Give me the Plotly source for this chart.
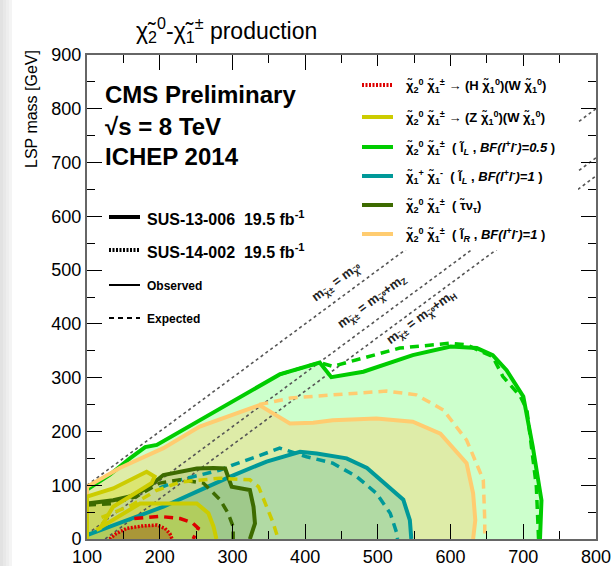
import plotly.graph_objects as go

# ---------------- data (x: chargino/neutralino2 mass, y: LSP mass, GeV) ----------------
green_obs_x = [100, 131, 159, 180, 196, 365, 420, 436, 480, 548, 600, 636, 658, 677, 700, 713, 725, 723]
green_obs_y = [92, 119, 150, 171, 175, 306, 328, 301, 311, 342, 358, 355, 342, 314, 265, 172, 72, 0]
green_exp_x = [365, 420, 438, 462, 530, 599, 622, 658, 672, 696, 705, 718, 721]
green_exp_y = [306, 328, 321, 330, 355, 364, 361, 339, 302, 265, 240, 97, 0]

orange_obs_x = [100, 100, 145, 205, 255, 337, 379, 411, 438, 498, 548, 586, 622, 631, 634, 631]
orange_obs_y = [80, 97, 132, 169, 209, 249, 215, 216, 221, 224, 218, 196, 141, 85, 35, 0]
orange_exp_x = [337, 380, 438, 512, 553, 590, 622, 645, 647, 647]
orange_exp_y = [250, 262, 268, 275, 268, 240, 184, 110, 35, 0]

teal_obs_x = [100, 145, 205, 251, 297, 347, 383, 393, 416, 457, 485, 508, 535, 544, 546]
teal_obs_y = [7, 29, 60, 88, 116, 144, 159, 162, 159, 150, 132, 104, 73, 35, 0]
teal_exp_x = [200, 228, 283, 301, 333, 365, 402, 438, 471, 498, 517, 526, 527]
teal_exp_y = [95, 110, 128, 138, 153, 169, 153, 141, 116, 85, 48, 11, 0]

olive_obs_x = [100, 136, 159, 182, 205, 251, 274, 290, 299, 324, 329, 331, 324]
olive_obs_y = [66, 72, 79, 94, 119, 131, 132, 131, 97, 91, 60, 29, 0]
olive_exp_x = [100, 136, 168, 200, 228, 260, 283, 294, 301, 301]
olive_exp_y = [63, 66, 79, 104, 110, 104, 73, 48, 23, 0]

yellow_obs_x = [100, 100, 136, 182, 193, 189, 177, 136, 118, 113, 173, 251, 267, 274, 278]
yellow_obs_y = [0, 79, 94, 125, 116, 104, 94, 60, 20, 17, 66, 66, 48, 23, 0]
yellow_exp_x = [120, 160, 195, 228, 283, 324, 336, 347, 356, 363]
yellow_exp_y = [40, 62, 90, 106, 113, 110, 97, 60, 30, 0]

red_obs_x = [131, 140, 155, 175, 196, 207, 214, 217]
red_obs_y = [0, 10, 20, 24, 26, 20, 10, 0]
red_exp_x = [165, 200, 228, 245, 253, 250, 246]
red_exp_y = [38, 42, 38, 30, 20, 10, 0]

# kinematic lines: m(chi1+-) = m(LSP) + offset
diag_offsets = [0.0, 91.2, 125.0]
diag_labels = ["m<sub>χ̃±</sub> = m<sub>χ̃⁰</sub>",
               "m<sub>χ̃±</sub> = m<sub>χ̃⁰</sub>+m<sub>Z</sub>",
               "m<sub>χ̃±</sub> = m<sub>χ̃⁰</sub>+m<sub>H</sub>"]

legend_labels = [
    "χ̃<sub>2</sub><sup>0</sup> χ̃<sub>1</sub><sup>±</sup> → (H χ̃<sub>1</sub><sup>0</sup>)(W χ̃<sub>1</sub><sup>0</sup>)",
    "χ̃<sub>2</sub><sup>0</sup> χ̃<sub>1</sub><sup>±</sup> → (Z χ̃<sub>1</sub><sup>0</sup>)(W χ̃<sub>1</sub><sup>0</sup>)",
    "χ̃<sub>2</sub><sup>0</sup> χ̃<sub>1</sub><sup>±</sup>  ( l̃<sub><i>L</i></sub> , <i>BF(l<sup>+</sup>l<sup>-</sup>)=0.5</i> )",
    "χ̃<sub>1</sub><sup>+</sup> χ̃<sub>1</sub><sup>-</sup>  ( l̃<sub><i>L</i></sub> , <i>BF(l<sup>+</sup>l<sup>-</sup>)=1</i> )",
    "χ̃<sub>2</sub><sup>0</sup> χ̃<sub>1</sub><sup>±</sup>  ( τ̃ν<sub>τ</sub>)",
    "χ̃<sub>2</sub><sup>0</sup> χ̃<sub>1</sub><sup>±</sup>  ( l̃<sub><i>R</i></sub> , <i>BF(l<sup>+</sup>l<sup>-</sup>)=1</i> )",
]

# ---------------- styles ----------------
C_GREEN, C_ORANGE, C_TEAL = "#00cc00", "#ffcc70", "#009999"
C_OLIVE, C_YELLOW, C_RED = "#3d6b00", "#cccc00", "#dd0000"

W, H = 615, 566
L, R, T, B = 87, 19, 55, 27
PW, PH = W - L - R, H - T - B


def px(x):
    return (x - L) / PW


def py(y):
    return (H - B - y) / PH


fig = go.Figure()


def add_fill(xs, ys, color, close_left=True):
    if close_left and not (xs[0] == 100 and ys[0] == 0):
        xs = [100] + list(xs)
        ys = [0] + list(ys)
    fig.add_trace(go.Scatter(x=xs, y=ys, mode="lines", fill="toself", fillcolor=color,
                             line=dict(width=0), hoverinfo="skip", showlegend=False))


add_fill(green_obs_x, green_obs_y, "rgba(0,255,0,0.20)")
add_fill(orange_obs_x, orange_obs_y, "rgba(255,200,100,0.35)")
add_fill(teal_obs_x, teal_obs_y, "rgba(0,150,150,0.20)")
add_fill(olive_obs_x, olive_obs_y, "rgba(60,110,0,0.15)")
add_fill(yellow_obs_x, yellow_obs_y, "rgba(215,215,0,0.32)", close_left=False)
add_fill(red_obs_x, red_obs_y, "rgba(160,70,0,0.40)", close_left=False)

# diagonal kinematic lines
for off in diag_offsets:
    x0 = max(100.0, off)
    xs = [x0, 800.0]
    ys = [x - off for x in xs]
    fig.add_trace(go.Scatter(x=xs, y=ys, mode="lines",
                             line=dict(color="#555555", width=1.6, dash="3px,3px"),
                             hoverinfo="skip", showlegend=False))


def add_line(xs, ys, color, dash, width):
    fig.add_trace(go.Scatter(x=xs, y=ys, mode="lines",
                             line=dict(color=color, width=width, dash=dash),
                             hoverinfo="skip", showlegend=False))


EXP_DASH = "9px,6px"
add_line(green_exp_x, green_exp_y, C_GREEN, EXP_DASH, 3.5)
add_line(green_obs_x, green_obs_y, C_GREEN, "solid", 4)
add_line(orange_exp_x, orange_exp_y, C_ORANGE, EXP_DASH, 3.5)
add_line(orange_obs_x, orange_obs_y, C_ORANGE, "solid", 4)
add_line(teal_exp_x, teal_exp_y, C_TEAL, EXP_DASH, 3.5)
add_line(teal_obs_x, teal_obs_y, C_TEAL, "solid", 4)
add_line(olive_exp_x, olive_exp_y, C_OLIVE, EXP_DASH, 3.5)
add_line(olive_obs_x, olive_obs_y, C_OLIVE, "solid", 4)
add_line(yellow_exp_x, yellow_exp_y, C_YELLOW, EXP_DASH, 3.5)
add_line(yellow_obs_x, yellow_obs_y, C_YELLOW, "solid", 4)
add_line(red_exp_x, red_exp_y, C_RED, EXP_DASH, 3.5)
add_line(red_obs_x, red_obs_y, C_RED, "2px,1.5px", 3.5)

FONT = "Liberation Sans, Arial, Helvetica, sans-serif"
shapes = []
annotations = []

# soft left-edge shadow like the screenshot
for i, col in enumerate(["#e2e2e2", "#e8e8e8", "#eeeeee", "#f4f4f4"]):
    shapes.append(dict(type="rect", xref="paper", yref="paper", layer="below",
                       x0=px(0 + 3 * i), x1=px(3 + 3 * i), y0=py(H), y1=py(0),
                       fillcolor=col, line=dict(width=0)))

# white legend box (covers kinematic lines)
shapes.append(dict(type="rect", xref="paper", yref="paper", layer="above",
                   x0=px(352), x1=px(578), y0=py(250), y1=py(66),
                   fillcolor="white", line=dict(width=0)))

# right legend samples
leg_y = [85, 117, 147, 176, 205, 234]
leg_colors = [C_RED, C_YELLOW, C_GREEN, C_TEAL, C_OLIVE, C_ORANGE]
for i, (yy, col) in enumerate(zip(leg_y, leg_colors)):
    shapes.append(dict(type="line", xref="paper", yref="paper", layer="above",
                       x0=px(362), x1=px(393), y0=py(yy), y1=py(yy),
                       line=dict(color=col, width=4, dash="2px,1.5px" if i == 0 else "solid")))
    annotations.append(dict(xref="paper", yref="paper", x=px(404), y=py(yy + 1),
                            xanchor="left", yanchor="middle", showarrow=False,
                            text="<b>" + legend_labels[i] + "</b>",
                            font=dict(family=FONT, size=13, color="black")))

# left legend samples
left_items = [
    (217, "solid", 4, "SUS-13-006  19.5 fb<sup>-1</sup>", 16),
    (250, "2px,1.5px", 4, "SUS-14-002  19.5 fb<sup>-1</sup>", 16),
    (285, "solid", 2, "Observed", 12),
    (318, "5px,4px", 2, "Expected", 12),
]
for yy, dash, w, txt, fs in left_items:
    shapes.append(dict(type="line", xref="paper", yref="paper", layer="above",
                       x0=px(109), x1=px(140), y0=py(yy), y1=py(yy),
                       line=dict(color="black", width=w, dash=dash)))
    annotations.append(dict(xref="paper", yref="paper", x=px(145), y=py(yy + 1),
                            xanchor="left", yanchor="middle", showarrow=False,
                            text="<b>" + txt + "</b>",
                            font=dict(family=FONT, size=fs, color="black")))

# CMS labels
for yy, txt in [(94, "CMS Preliminary"), (127, "√s = 8 TeV"), (156, "ICHEP 2014")]:
    annotations.append(dict(xref="paper", yref="paper", x=px(103), y=py(yy),
                            xanchor="left", yanchor="middle", showarrow=False,
                            text="<b>" + txt + "</b>",
                            font=dict(family=FONT, size=24, color="black")))

# diagonal labels
for (cx, cy), txt in zip([(336, 282), (372, 301), (421, 317)], diag_labels):
    annotations.append(dict(xref="paper", yref="paper", x=px(cx), y=py(cy),
                            xanchor="center", yanchor="middle", showarrow=False,
                            textangle=-36.5, text="<b>" + txt + "</b>",
                            font=dict(family=FONT, size=13, color="#222222")))

# title
annotations.append(dict(xref="paper", yref="paper", x=px(226), y=py(30),
                        xanchor="center", yanchor="middle", showarrow=False,
                        text="χ̃<sub>2</sub><sup>0</sup>-χ̃<sub>1</sub><sup>±</sup> production",
                        font=dict(family=FONT, size=23, color="black")))
# y-axis title
annotations.append(dict(xref="paper", yref="paper", x=px(32), y=py(109),
                        xanchor="center", yanchor="middle", showarrow=False,
                        textangle=-90, text="LSP mass [GeV]",
                        font=dict(family=FONT, size=16, color="black")))

axis_common = dict(
    showgrid=False, zeroline=False, showline=True, linecolor="#666666", linewidth=2,
    mirror="allticks", ticks="inside", ticklen=15, tickwidth=1.2, tickcolor="black",
    minor=dict(ticks="inside", ticklen=8, tickwidth=1, tickcolor="black", nticks=5),
    tickfont=dict(family=FONT, size=18, color="black"),
)

fig.update_layout(
    width=W, height=H,
    margin=dict(l=L, r=R, t=T, b=B, autoexpand=False),
    paper_bgcolor="white", plot_bgcolor="white",
    showlegend=False,
    xaxis=dict(range=[100, 800], tickvals=[100, 200, 300, 400, 500, 600, 700, 800],
               **axis_common),
    yaxis=dict(range=[0, 900], tickvals=[0, 100, 200, 300, 400, 500, 600, 700, 800, 900],
               **axis_common),
    shapes=shapes,
    annotations=annotations,
)

fig.write_html("out.html")
